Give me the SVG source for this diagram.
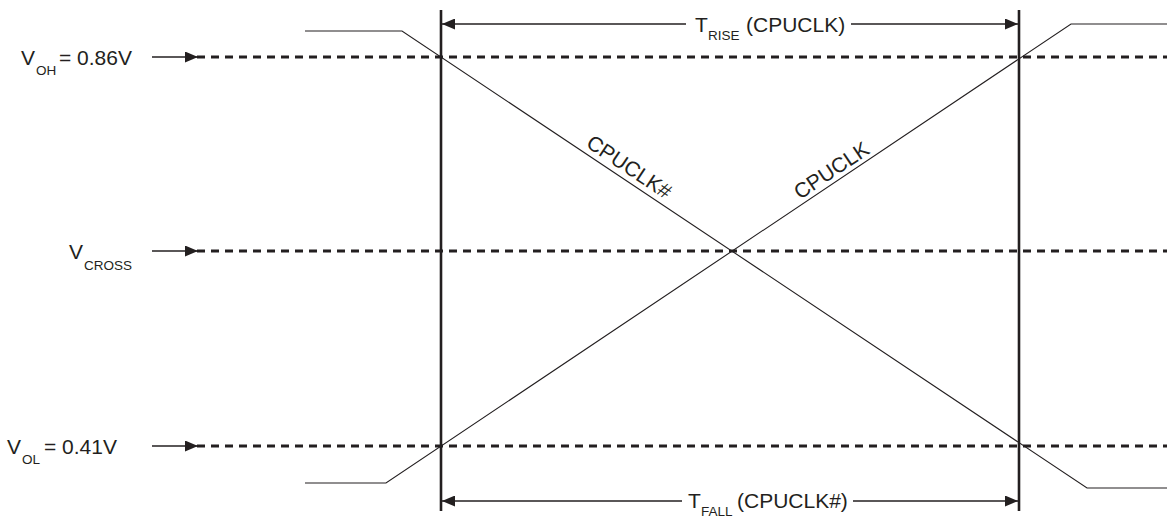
<svg xmlns="http://www.w3.org/2000/svg" width="1167" height="517" viewBox="0 0 1167 517">
<style>
text{font-family:"Liberation Sans",Arial,sans-serif;fill:#231f20}
.lbl{font-size:21px}
.sub{font-size:13.5px}
.t{font-size:21px}
.dash{stroke:#231f20;stroke-width:2.8;stroke-dasharray:8 6;fill:none}
.thin{stroke:#231f20;stroke-width:1.1;fill:none}
.bar{stroke:#231f20;stroke-width:2.6;fill:none}
.ln{stroke:#231f20;stroke-width:1.4;fill:none}
</style>
<defs>
<marker id="ah" viewBox="0 0 13 11" refX="13" refY="5.5" markerWidth="13" markerHeight="11" markerUnits="userSpaceOnUse" orient="auto">
<path d="M0,0 L13,5.5 L0,11 Z" fill="#231f20"/>
</marker>
</defs>
<g id="bars">
<line class="bar" x1="441" y1="10" x2="441" y2="511"/>
<line class="bar" x1="1019" y1="10" x2="1019" y2="511"/>
</g>
<g id="levels">
<line class="dash" x1="197" y1="57" x2="1167" y2="57"/>
<line class="dash" x1="197" y1="251" x2="1167" y2="251"/>
<line class="dash" x1="197" y1="446" x2="1167" y2="446"/>
</g>
<g id="connectors">
<line class="ln" x1="152" y1="57" x2="198" y2="57" marker-end="url(#ah)"/>
<line class="ln" x1="152" y1="251" x2="198" y2="251" marker-end="url(#ah)"/>
<line class="ln" x1="152" y1="446" x2="198" y2="446" marker-end="url(#ah)"/>
<line class="ln" x1="686" y1="24" x2="442" y2="24" marker-end="url(#ah)"/>
<line class="ln" x1="851" y1="24" x2="1018" y2="24" marker-end="url(#ah)"/>
<line class="ln" x1="682" y1="501" x2="442" y2="501" marker-end="url(#ah)"/>
<line class="ln" x1="853" y1="501" x2="1018" y2="501" marker-end="url(#ah)"/>
</g>
<g id="cpuclk_n">
<polyline class="thin" points="305,31 402,31 1087,488 1167,488"/>
<text class="t" transform="translate(585,146) rotate(33.7)">CPUCLK#</text>
</g>
<g id="cpuclk">
<polyline class="thin" points="305,483 386,483 1071,24 1167,24"/>
<text class="t" transform="translate(800,200) rotate(-33.8)">CPUCLK</text>
</g>
<g id="voh">
<text class="lbl" x="21" y="65">V</text><text class="sub" x="36" y="75">OH</text><text class="lbl" x="59" y="65">= 0.86V</text>
</g>
<g id="vcross">
<text class="lbl" x="69" y="259">V</text><text class="sub" x="84" y="270">CROSS</text>
</g>
<g id="vol">
<text class="lbl" x="7" y="454">V</text><text class="sub" x="22" y="464">OL</text><text class="lbl" x="44" y="454">= 0.41V</text>
</g>
<g id="trise">
<text class="t" x="695" y="32">T</text><text class="sub" x="708" y="40">RISE</text><text class="t" x="746" y="32">(CPUCLK)</text>
</g>
<g id="tfall">
<text class="t" x="688" y="508">T</text><text class="sub" x="701" y="516">FALL</text><text class="t" x="737" y="508">(CPUCLK#)</text>
</g>
</svg>
